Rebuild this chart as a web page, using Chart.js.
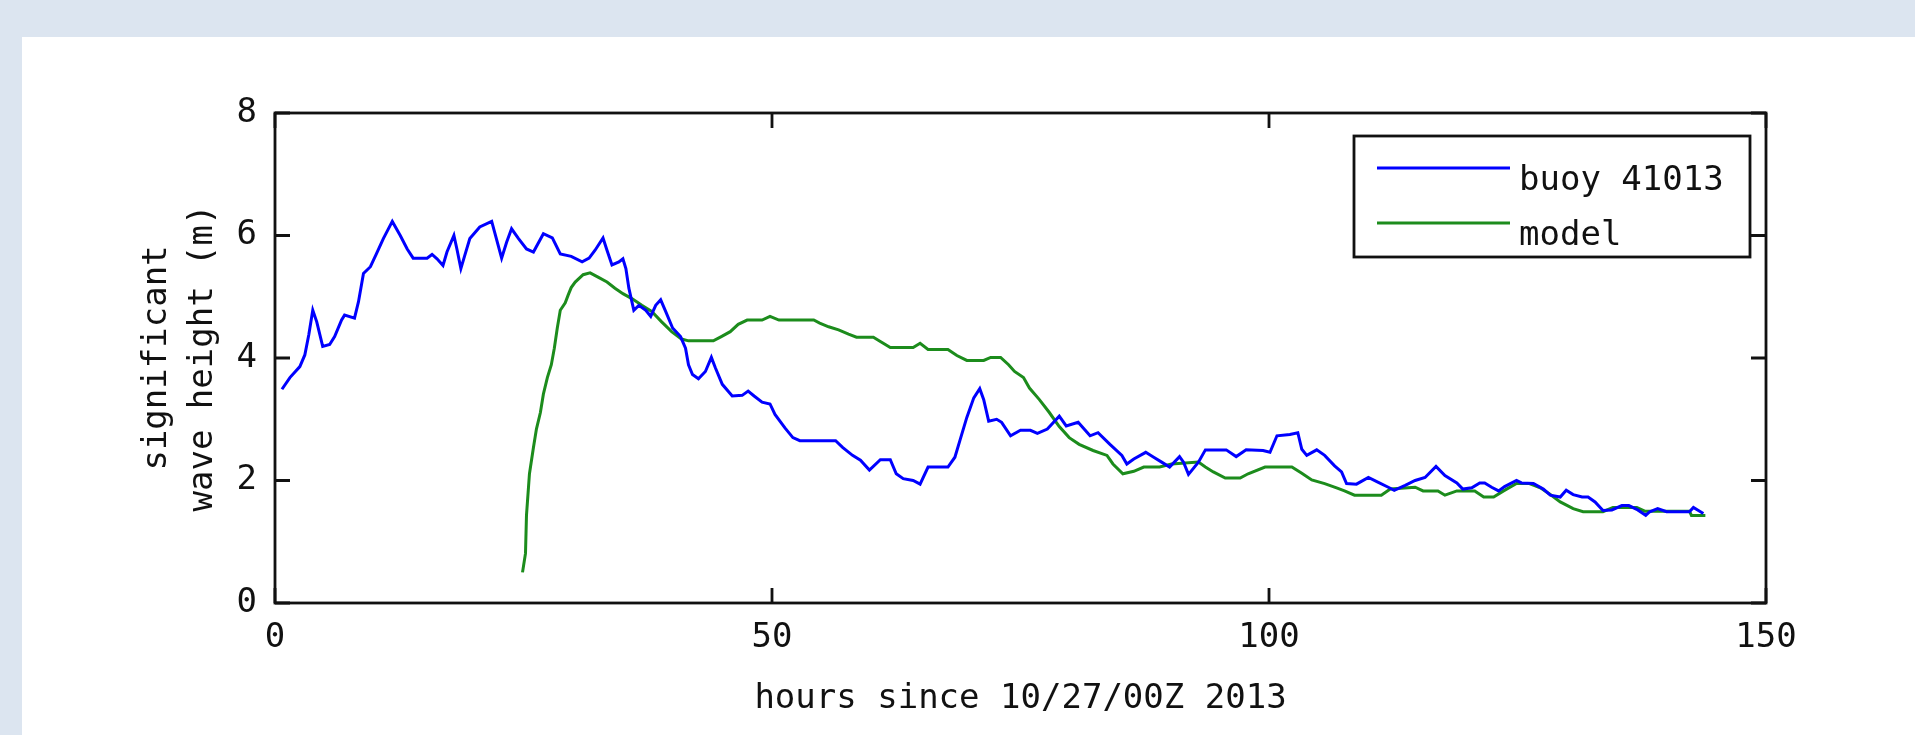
<!DOCTYPE html>
<html>
<head>
<meta charset="utf-8">
<script src="https://cdn.jsdelivr.net/npm/chart.js@4.4.1/dist/chart.umd.min.js"></script>
<style>
  html, body { margin: 0; padding: 0; background: #dce5f0; overflow: hidden; }
  canvas { display: block; }
</style>
</head>
<body>
<canvas id="waves" width="1915" height="735"></canvas>
<script>
// Significant wave height: buoy observations vs. model hindcast
const buoyHours = [0.7, 1.5, 2.5, 3.0, 3.4, 3.8, 4.2, 4.8, 5.5, 6.0, 6.7, 7.0, 8.0, 8.4, 8.9, 9.6, 10.2, 10.9, 11.8, 12.6,
  13.3, 13.9, 15.3, 15.8, 16.3, 16.9, 17.3, 18.0, 18.3, 18.7, 19.1, 19.6, 20.6, 21.8, 22.1, 22.8, 23.3, 23.8, 24.5, 25.3,
  26.0, 27.0, 27.9, 28.7, 29.8, 30.9, 31.6, 32.2, 33.0, 33.4, 33.9, 34.6, 35.0, 35.3, 35.6, 36.1, 36.6, 37.3, 37.8, 38.3,
  38.8, 39.3, 40.0, 40.8, 41.3, 41.6, 42.0, 42.6, 43.3, 43.9, 44.3, 45.0, 46.0, 47.0, 47.6, 48.2, 49.0, 49.8, 50.3, 51.3,
  52.1, 52.8, 56.4, 57.1, 58.1, 58.9, 59.8, 60.9, 61.9, 62.5, 63.2, 64.2, 64.9, 65.7, 67.7, 68.4, 68.9, 69.6, 70.3, 70.9,
  71.3, 71.8, 72.6, 73.1, 74.0, 75.0, 76.0, 76.7, 77.7, 78.9, 79.6, 80.8, 82.0, 82.8, 84.0, 85.2, 85.7, 86.4, 87.6, 88.4,
  89.2, 90.0, 91.0, 91.4, 91.9, 92.9, 93.6, 95.7, 96.7, 97.7, 99.4, 100.1, 100.8, 102.1, 102.9, 103.3, 103.8, 104.8, 105.6, 106.6,
  107.3, 107.8, 108.8, 110.0, 111.0, 112.0, 112.6, 113.7, 114.7, 115.7, 116.8, 117.7, 118.9, 119.5, 120.4, 121.2, 121.7, 122.4, 123.1, 123.7,
  124.9, 125.4, 126.6, 127.6, 128.3, 129.3, 129.9, 130.6, 131.5, 132.1, 132.8, 133.6, 134.5, 135.5, 136.2, 137.1, 137.9, 138.3, 139.1, 140.0,
  142.3, 142.7, 143.2, 143.7];
const buoyHeights = [3.49, 3.68, 3.86, 4.05, 4.38, 4.78, 4.59, 4.19, 4.22, 4.35, 4.62, 4.70, 4.65, 4.92, 5.38, 5.49, 5.70, 5.95, 6.23, 6.00,
  5.78, 5.63, 5.63, 5.69, 5.62, 5.51, 5.73, 6.00, 5.78, 5.46, 5.68, 5.95, 6.14, 6.23, 6.05, 5.63, 5.89, 6.11, 5.95, 5.78,
  5.73, 6.03, 5.96, 5.70, 5.66, 5.57, 5.63, 5.76, 5.96, 5.76, 5.52, 5.57, 5.62, 5.46, 5.14, 4.78, 4.86, 4.78, 4.68, 4.86,
  4.95, 4.76, 4.49, 4.35, 4.16, 3.89, 3.73, 3.66, 3.78, 4.01, 3.84, 3.57, 3.38, 3.39, 3.46, 3.38, 3.28, 3.25, 3.08, 2.86,
  2.70, 2.65, 2.65, 2.54, 2.41, 2.33, 2.17, 2.34, 2.34, 2.11, 2.03, 2.00, 1.94, 2.22, 2.22, 2.38, 2.65, 3.03, 3.35, 3.50,
  3.32, 2.97, 3.00, 2.95, 2.73, 2.82, 2.82, 2.77, 2.84, 3.05, 2.89, 2.95, 2.73, 2.78, 2.59, 2.41, 2.27, 2.35, 2.46, 2.38,
  2.30, 2.22, 2.39, 2.30, 2.10, 2.30, 2.50, 2.50, 2.39, 2.50, 2.49, 2.46, 2.73, 2.75, 2.78, 2.51, 2.41, 2.50, 2.41, 2.24,
  2.14, 1.95, 1.94, 2.05, 1.97, 1.89, 1.84, 1.92, 2.00, 2.05, 2.23, 2.08, 1.96, 1.86, 1.88, 1.96, 1.96, 1.89, 1.83, 1.90,
  2.00, 1.96, 1.95, 1.86, 1.76, 1.73, 1.84, 1.77, 1.73, 1.73, 1.65, 1.51, 1.52, 1.59, 1.59, 1.52, 1.43, 1.49, 1.54, 1.49,
  1.49, 1.56, 1.51, 1.46];

const modelHours = [24.9, 25.2, 25.3, 25.6, 26.0, 26.3, 26.7, 27.0, 27.4, 27.8, 28.1, 28.4, 28.7, 29.2, 29.5, 29.8, 30.2, 31.0, 31.7, 32.5,
  33.4, 34.2, 35.0, 35.9, 36.9, 37.9, 38.9, 39.9, 40.9, 41.6, 44.1, 44.9, 45.8, 46.6, 47.5, 49.0, 49.8, 50.7, 54.2, 54.8,
  55.7, 56.7, 57.7, 58.5, 60.2, 60.9, 61.9, 64.2, 64.9, 65.7, 67.7, 68.6, 69.6, 71.3, 72.0, 73.0, 73.8, 74.4, 75.3, 75.9,
  76.9, 77.9, 78.9, 79.9, 80.9, 82.3, 83.7, 84.3, 85.3, 86.4, 87.4, 89.0, 90.2, 92.9, 93.6, 94.4, 95.6, 97.1, 97.9, 99.6,
  102.3, 103.3, 104.3, 105.6, 106.8, 107.6, 108.6, 111.3, 112.2, 114.7, 115.5, 117.0, 117.7, 118.9, 120.7, 121.6, 122.6, 123.6, 124.9, 126.2,
  127.3, 128.3, 129.3, 130.6, 131.6, 133.6, 134.6, 137.0, 137.8, 142.3, 142.5, 143.9];
const modelHeights = [0.50, 0.81, 1.43, 2.11, 2.54, 2.84, 3.11, 3.41, 3.68, 3.89, 4.16, 4.49, 4.78, 4.90, 5.03, 5.15, 5.24, 5.36, 5.39, 5.32,
  5.24, 5.14, 5.05, 4.97, 4.86, 4.76, 4.59, 4.43, 4.31, 4.28, 4.28, 4.35, 4.43, 4.55, 4.62, 4.62, 4.68, 4.62, 4.62, 4.57,
  4.51, 4.46, 4.39, 4.34, 4.34, 4.27, 4.17, 4.17, 4.24, 4.14, 4.14, 4.04, 3.96, 3.96, 4.01, 4.01, 3.89, 3.78, 3.68, 3.51,
  3.32, 3.11, 2.88, 2.70, 2.59, 2.49, 2.41, 2.27, 2.11, 2.15, 2.22, 2.22, 2.27, 2.30, 2.22, 2.14, 2.04, 2.04, 2.11, 2.22,
  2.22, 2.12, 2.01, 1.95, 1.88, 1.83, 1.76, 1.76, 1.86, 1.89, 1.83, 1.83, 1.76, 1.83, 1.83, 1.73, 1.73, 1.83, 1.95, 1.95,
  1.88, 1.77, 1.65, 1.54, 1.49, 1.49, 1.56, 1.56, 1.50, 1.50, 1.43, 1.43];

const seriesLabels = ['buoy 41013', 'model'];
const seriesColors = ['#0000ff', '#1c8c1c'];
const xTickValues = [0, 50, 100, 150];
const yTickValues = [0, 2, 4, 6, 8];
const xAxisTitle = 'hours since 10/27/00Z 2013';
const yAxisTitle = ['significant', 'wave height (m)'];

const FONT = '"DejaVu Sans Mono", "Liberation Mono", monospace';
const INK = '#111111';

const toPoints = (xs, ys) => xs.map((x, i) => ({ x, y: ys[i] }));

// light-blue page with a white figure panel
const figureBackground = {
  id: 'figureBackground',
  beforeDraw(chart) {
    const { ctx, width, height } = chart;
    ctx.save();
    ctx.fillStyle = '#dce5f0';
    ctx.fillRect(0, 0, width, height);
    ctx.fillStyle = '#ffffff';
    ctx.fillRect(22, 37, width - 22, height - 37);
    ctx.restore();
  }
};

// boxed axes with inward tick marks on all four sides
const boxAxes = {
  id: 'boxAxes',
  afterDatasetsDraw(chart) {
    const { ctx, chartArea: a, scales } = chart;
    const len = 15;
    ctx.save();
    ctx.strokeStyle = INK;
    ctx.lineWidth = 2.8;
    ctx.beginPath();
    scales.x.ticks.forEach(t => {
      const px = scales.x.getPixelForValue(t.value);
      ctx.moveTo(px, a.bottom); ctx.lineTo(px, a.bottom - len);
      ctx.moveTo(px, a.top); ctx.lineTo(px, a.top + len);
    });
    scales.y.ticks.forEach(t => {
      const py = scales.y.getPixelForValue(t.value);
      ctx.moveTo(a.left, py); ctx.lineTo(a.left + len, py);
      ctx.moveTo(a.right, py); ctx.lineTo(a.right - len, py);
    });
    ctx.stroke();
    ctx.strokeRect(a.left, a.top, a.right - a.left, a.bottom - a.top);
    ctx.restore();
  }
};

// boxed legend in the upper right corner of the plot
const boxLegend = {
  id: 'boxLegend',
  afterDraw(chart) {
    const { ctx, chartArea: a } = chart;
    const right = a.right - 16, top = a.top + 23;
    const w = 396, h = 121;
    const left = right - w;
    ctx.save();
    ctx.fillStyle = '#ffffff';
    ctx.fillRect(left, top, w, h);
    ctx.strokeStyle = INK;
    ctx.lineWidth = 2.8;
    ctx.strokeRect(left, top, w, h);
    ctx.font = '34px ' + FONT;
    ctx.textBaseline = 'alphabetic';
    ctx.textAlign = 'left';
    chart.data.datasets.forEach((ds, i) => {
      const y = top + 32 + i * 55;
      ctx.strokeStyle = ds.borderColor;
      ctx.lineWidth = 3;
      ctx.beginPath();
      ctx.moveTo(left + 23, y);
      ctx.lineTo(left + 156, y);
      ctx.stroke();
      ctx.fillStyle = INK;
      ctx.fillText(ds.label, left + 165, y + 22);
    });
    ctx.restore();
  }
};

new Chart(document.getElementById('waves'), {
  type: 'line',
  data: {
    datasets: [
      { label: seriesLabels[0], data: toPoints(buoyHours, buoyHeights), borderColor: seriesColors[0], borderWidth: 3 },
      { label: seriesLabels[1], data: toPoints(modelHours, modelHeights), borderColor: seriesColors[1], borderWidth: 3 }
    ]
  },
  options: {
    responsive: false,
    animation: false,
    devicePixelRatio: 1,
    layout: { padding: { left: 0, top: 113, right: 149, bottom: 0 } },
    elements: { point: { radius: 0 }, line: { tension: 0, fill: false } },
    plugins: { legend: { display: false }, tooltip: { enabled: false } },
    scales: {
      x: {
        type: 'linear', min: 0, max: 150,
        afterBuildTicks: s => { s.ticks = xTickValues.map(v => ({ value: v })); },
        afterFit: s => { s.height = 132; },
        grid: { display: false, drawTicks: false },
        border: { display: false },
        ticks: { color: INK, font: { family: FONT, size: 34 }, padding: 15, maxRotation: 0, autoSkip: false },
        title: { display: true, text: xAxisTitle, color: INK, font: { family: FONT, size: 34 }, padding: { top: 0, bottom: 15 } }
      },
      y: {
        type: 'linear', min: 0, max: 8,
        afterBuildTicks: s => { s.ticks = yTickValues.map(v => ({ value: v })); },
        afterFit: s => { s.width = 275; },
        grid: { display: false, drawTicks: false },
        border: { display: false },
        ticks: { color: INK, font: { family: FONT, size: 34 }, padding: 18, autoSkip: false },
        title: { display: true, text: yAxisTitle, color: INK, font: { family: FONT, size: 34, lineHeight: 1.36 }, padding: { top: 134, bottom: 0 } }
      }
    }
  },
  plugins: [figureBackground, boxAxes, boxLegend]
});
</script>
</body>
</html>
